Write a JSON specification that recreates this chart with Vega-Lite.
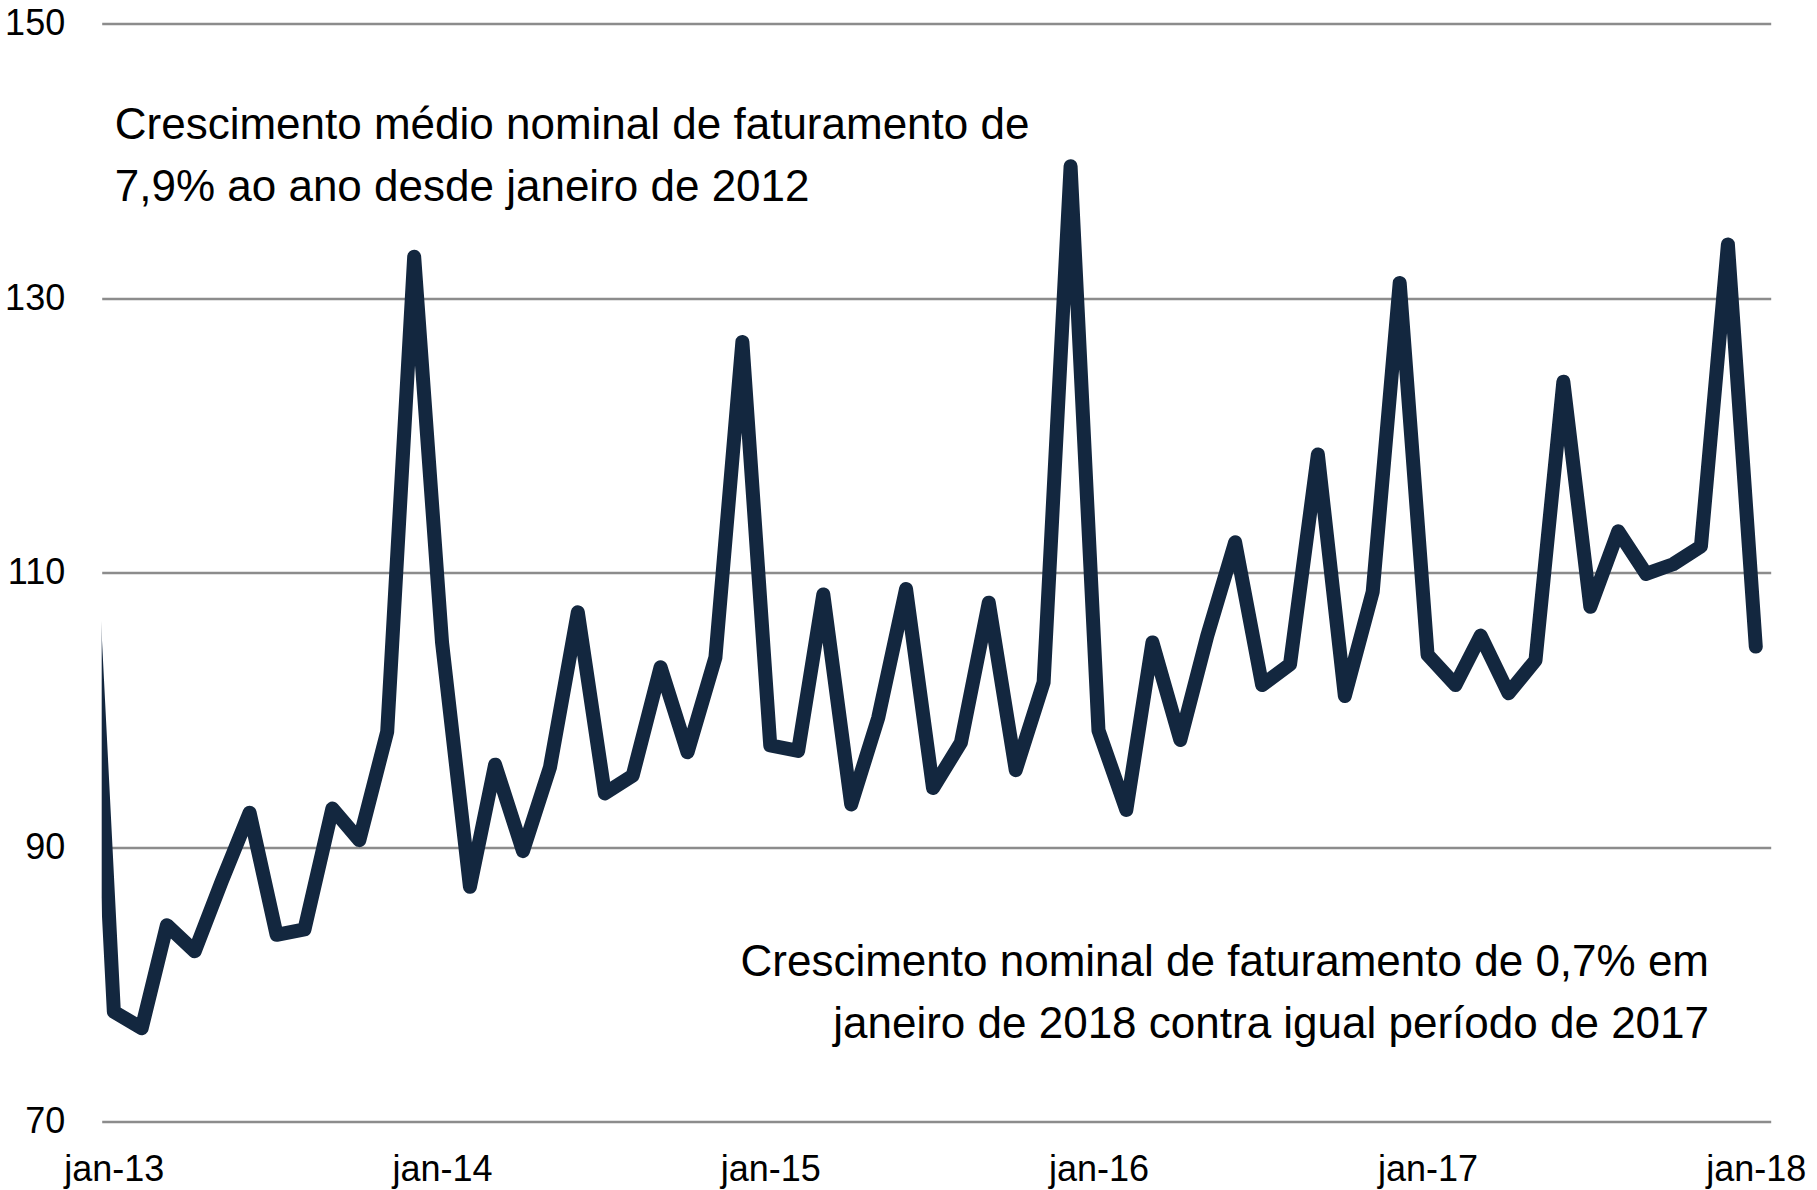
{
  "$schema": "https://vega.github.io/schema/vega-lite/v6.json",
  "width": 1669,
  "height": 1098,
  "autosize": {"type": "none"},
  "padding": {"left": 101.7, "top": 23.5, "right": 46.3, "bottom": 68.5},
  "background": "white",
  "config": {
    "view": {"stroke": null},
    "font": "Liberation Sans, Arial, sans-serif"
  },
  "datasets": {
    "serie": [
      {"mes": "2012-12-01", "indice": 118.0},
      {"mes": "2013-01-01", "indice": 78.0},
      {"mes": "2013-02-01", "indice": 76.8},
      {"mes": "2013-03-01", "indice": 84.3},
      {"mes": "2013-04-01", "indice": 82.4},
      {"mes": "2013-05-01", "indice": 87.5},
      {"mes": "2013-06-01", "indice": 92.5},
      {"mes": "2013-07-01", "indice": 83.6},
      {"mes": "2013-08-01", "indice": 84.0},
      {"mes": "2013-09-01", "indice": 92.8},
      {"mes": "2013-10-01", "indice": 90.5},
      {"mes": "2013-11-01", "indice": 98.4},
      {"mes": "2013-12-01", "indice": 133.0},
      {"mes": "2014-01-01", "indice": 104.9},
      {"mes": "2014-02-01", "indice": 87.1},
      {"mes": "2014-03-01", "indice": 96.0},
      {"mes": "2014-04-01", "indice": 89.7},
      {"mes": "2014-05-01", "indice": 95.8},
      {"mes": "2014-06-01", "indice": 107.1},
      {"mes": "2014-07-01", "indice": 93.9},
      {"mes": "2014-08-01", "indice": 95.2},
      {"mes": "2014-09-01", "indice": 103.1},
      {"mes": "2014-10-01", "indice": 96.9},
      {"mes": "2014-11-01", "indice": 103.8},
      {"mes": "2014-12-01", "indice": 126.8},
      {"mes": "2015-01-01", "indice": 97.4},
      {"mes": "2015-02-01", "indice": 97.0},
      {"mes": "2015-03-01", "indice": 108.4},
      {"mes": "2015-04-01", "indice": 93.1},
      {"mes": "2015-05-01", "indice": 99.4},
      {"mes": "2015-06-01", "indice": 108.8},
      {"mes": "2015-07-01", "indice": 94.3},
      {"mes": "2015-08-01", "indice": 97.6},
      {"mes": "2015-09-01", "indice": 107.8},
      {"mes": "2015-10-01", "indice": 95.6},
      {"mes": "2015-11-01", "indice": 102.0},
      {"mes": "2015-12-01", "indice": 139.6},
      {"mes": "2016-01-01", "indice": 98.5},
      {"mes": "2016-02-01", "indice": 92.7},
      {"mes": "2016-03-01", "indice": 104.9},
      {"mes": "2016-04-01", "indice": 97.8},
      {"mes": "2016-05-01", "indice": 105.4},
      {"mes": "2016-06-01", "indice": 112.2},
      {"mes": "2016-07-01", "indice": 101.8},
      {"mes": "2016-08-01", "indice": 103.3},
      {"mes": "2016-09-01", "indice": 118.6},
      {"mes": "2016-10-01", "indice": 101.0},
      {"mes": "2016-11-01", "indice": 108.6},
      {"mes": "2016-12-01", "indice": 131.1},
      {"mes": "2017-01-01", "indice": 104.0},
      {"mes": "2017-02-01", "indice": 101.8},
      {"mes": "2017-03-01", "indice": 105.4},
      {"mes": "2017-04-01", "indice": 101.2},
      {"mes": "2017-05-01", "indice": 103.6},
      {"mes": "2017-06-01", "indice": 123.9},
      {"mes": "2017-07-01", "indice": 107.5},
      {"mes": "2017-08-01", "indice": 113.0},
      {"mes": "2017-09-01", "indice": 109.9},
      {"mes": "2017-10-01", "indice": 110.6},
      {"mes": "2017-11-01", "indice": 111.9},
      {"mes": "2017-12-01", "indice": 133.9},
      {"mes": "2018-01-01", "indice": 104.6}
    ],
    "nota_media": [
      {"mes": "2013-01-02", "indice": 141.6, "texto": "Crescimento médio nominal de faturamento de\n7,9% ao ano desde janeiro de 2012"}
    ],
    "nota_jan": [
      {"mes": "2017-11-10", "indice": 80.6, "texto": "Crescimento nominal de faturamento de 0,7% em\njaneiro de 2018 contra igual período de 2017"}
    ]
  },
  "layer": [
    {
      "data": {"name": "serie"},
      "mark": {"type": "line", "color": "#13273f", "strokeWidth": 14, "strokeJoin": "round", "strokeCap": "round", "clip": true},
      "encoding": {
        "x": {
          "field": "mes", "type": "temporal",
          "scale": {"type": "utc", "domain": [
            {"year": 2012, "month": 12, "date": 18, "hours": 12, "utc": true},
            {"year": 2018, "month": 1, "date": 17, "hours": 14, "utc": true}
          ]},
          "axis": {
            "title": null, "grid": false, "domain": false, "ticks": false,
            "values": [
              {"year": 2013, "month": 1, "date": 1, "utc": true},
              {"year": 2014, "month": 1, "date": 1, "utc": true},
              {"year": 2015, "month": 1, "date": 1, "utc": true},
              {"year": 2016, "month": 1, "date": 1, "utc": true},
              {"year": 2017, "month": 1, "date": 1, "utc": true},
              {"year": 2018, "month": 1, "date": 1, "utc": true}
            ],
            "labelExpr": "'jan-' + utcFormat(datum.value, '%y')",
            "labelFontSize": 36, "labelColor": "#000000", "labelPadding": 31,
            "labelBaseline": "top", "labelOverlap": false, "labelBound": false, "labelFlush": false
          }
        },
        "y": {
          "field": "indice", "type": "quantitative",
          "scale": {"domain": [70, 150], "nice": false, "zero": false},
          "axis": {
            "title": null, "domain": false, "ticks": false,
            "values": [70, 90, 110, 130, 150],
            "grid": true, "gridColor": "#8c8c8c", "gridWidth": 2.5,
            "labelFontSize": 36, "labelColor": "#000000", "labelPadding": 37
          }
        }
      }
    },
    {
      "data": {"name": "nota_media"},
      "mark": {"type": "text", "align": "left", "baseline": "alphabetic", "fontSize": 44, "lineHeight": 62, "lineBreak": "\n", "color": "#000000"},
      "encoding": {
        "x": {"field": "mes", "type": "temporal"},
        "y": {"field": "indice", "type": "quantitative"},
        "text": {"field": "texto"}
      }
    },
    {
      "data": {"name": "nota_jan"},
      "mark": {"type": "text", "align": "right", "baseline": "alphabetic", "fontSize": 44, "lineHeight": 62, "lineBreak": "\n", "color": "#000000"},
      "encoding": {
        "x": {"field": "mes", "type": "temporal"},
        "y": {"field": "indice", "type": "quantitative"},
        "text": {"field": "texto"}
      }
    }
  ]
}
